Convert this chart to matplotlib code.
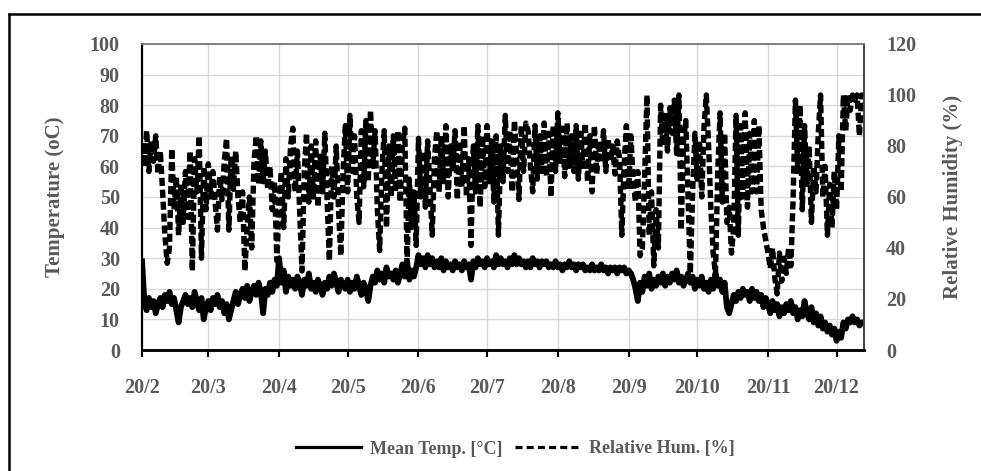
import numpy as np
import matplotlib
matplotlib.use('Agg')
import matplotlib.pyplot as plt
from matplotlib.lines import Line2D
import pandas as pd

# daily readings from 20 Feb 2020 to 1 Jan 2021
start_date = '2020-02-20'

mean_temp = [
    29, 16, 13, 17, 14, 16, 12, 15, 17,
    14, 18, 16, 19, 15, 17, 13, 9, 14, 16,
    18, 15, 17, 14, 19, 16, 13, 17, 10, 14,
    16, 13, 17, 15, 18, 14, 16, 12, 15, 10,
    13, 16, 19, 15, 18, 20, 17, 21, 16, 19,
    21, 18, 22, 19, 12, 20, 18, 22, 19, 23,
    21, 30, 22, 26, 19, 24, 21, 23, 20, 24,
    22, 18, 23, 21, 25, 20, 22, 19, 23, 21,
    18, 22, 20, 24, 21, 25, 22, 19, 23, 21,
    20, 23, 19, 22, 20, 24, 21, 18, 22, 20,
    16, 21, 24, 22, 26, 23, 25, 22, 27, 24,
    25, 23, 26, 22, 25, 28, 24, 29, 23, 26,
    24, 27, 31, 28, 30, 27, 31, 28, 30, 27,
    29, 27, 30, 26, 29, 27, 28, 26, 29, 27,
    28, 26, 29, 27, 28, 23, 29, 27, 30, 28,
    29, 27, 30, 28, 29, 27, 31, 28, 30, 28,
    29, 27, 30, 28, 31, 28, 30, 28, 29, 27,
    29, 27, 30, 28, 29, 27, 29, 28, 29, 27,
    28, 27, 29, 27, 28, 26, 28, 27, 29, 27,
    28, 26, 28, 27, 28, 26, 27, 26, 28, 26,
    27, 26, 28, 26, 27, 25, 27, 26, 27, 25,
    27, 26, 27, 25, 26, 25, 23, 20, 16, 22,
    19, 24, 21, 25, 20, 23, 21, 24, 22, 25,
    21, 24, 22, 25, 23, 26, 22, 24, 21, 23,
    25, 22, 24, 20, 23, 21, 24, 20, 22, 19,
    23, 20, 25, 21, 23, 19, 22, 14, 12, 15,
    18, 16, 19, 17, 20, 18, 19, 16, 20, 17,
    19, 16, 18, 14, 17, 15, 12, 16, 13, 15,
    11, 14, 12, 15, 13, 16, 12, 14, 10, 13,
    11, 16, 12, 10, 14, 9, 12, 8, 11, 7,
    9, 6, 8, 5, 7, 3, 6, 4, 9, 7,
    10, 9, 11, 9, 10, 8, 9, 9,
]

rel_hum = [
    80, 72, 86, 70, 82, 74, 84, 69, 78,
    62, 45, 34, 40, 79, 55, 68, 45, 65, 50,
    70, 52, 78, 31, 75, 62, 84, 36, 72, 55,
    73, 60, 70, 58, 47, 68, 59, 74, 83, 47,
    76, 63, 78, 60, 50, 62, 31, 48, 60, 40,
    74, 84, 65, 82, 66, 78, 63, 72, 55, 66,
    35, 58, 70, 48, 75, 60, 80, 87, 62, 78,
    55, 31, 70, 85, 58, 80, 60, 82, 56, 76,
    62, 85, 59, 35, 72, 60, 80, 55, 37, 70,
    88, 62, 92, 70, 84, 60, 50, 86, 64, 90,
    66, 94, 72, 86, 55, 39, 70, 86, 48, 80,
    60, 84, 62, 86, 58, 80, 87, 34, 67, 48,
    62, 41, 83, 60, 78, 56, 82, 64, 45, 75,
    86, 62, 84, 66, 88, 60, 80, 70, 86, 59,
    82, 64, 88, 60, 75, 41, 80, 62, 88, 56,
    84, 64, 88, 66, 82, 58, 84, 45, 80, 66,
    92, 70, 86, 62, 90, 75, 59, 88, 70, 89,
    86, 72, 62, 88, 67, 84, 70, 89, 68, 85,
    60, 88, 70, 93, 74, 87, 68, 89, 72, 84,
    70, 88, 67, 85, 72, 89, 66, 84, 62, 88,
    69, 82, 75, 86, 70, 83, 74, 80, 69, 82,
    75, 45, 72, 88, 63, 84, 66, 58, 70, 37,
    40, 68, 100, 45, 62, 33, 55, 40, 96, 80,
    92, 78, 95, 85, 98, 77, 100, 47, 82, 90,
    60, 30, 62, 85, 67, 82, 60, 88, 100, 80,
    55, 38, 30, 70, 93, 58, 85, 50, 56, 38,
    48, 92, 45, 88, 60, 93, 56, 85, 62, 90,
    62, 88, 55, 48, 43, 38, 32, 40, 28, 22,
    38, 27, 36, 30, 40, 33, 60, 98, 70, 96,
    55, 88, 65, 80, 50, 72, 62, 85, 100, 60,
    72, 45, 65, 48, 70, 55, 84, 62, 100, 86,
    100, 94, 100, 98, 100, 84, 100, 96,
]

tick_months = [2, 3, 4, 5, 6, 7, 8, 9, 10, 11, 12]
tick_labels = ['20/' + str(m) for m in tick_months]

dates = pd.date_range(start_date, periods=len(mean_temp), freq='D')
tick_dates = [pd.Timestamp(2020, m, 20) for m in tick_months]

plt.rcParams['font.family'] = ['Liberation Serif', 'DejaVu Serif']
plt.rcParams['font.weight'] = 'bold'
grey = '#595959'

fig = plt.figure(figsize=(9.81, 4.71), dpi=100)
ax = fig.add_axes([0.1448, 0.2569, 0.7359, 0.6497])
ax2 = ax.twinx()

ax.plot(dates, mean_temp, color='black', lw=4.2, solid_joinstyle='round', label='Mean Temp. [°C]')
ax2.plot(dates, rel_hum, color='black', lw=3.9, linestyle=(0, (1.5, 0.7)),
         dash_capstyle='butt', label='Relative Hum. [%]')

ax.set_ylim(0, 100)
ax.set_yticks(np.arange(0, 101, 10))
ax2.set_ylim(0, 120)
ax2.set_yticks(np.arange(0, 121, 20))
ax.set_xlim(pd.Timestamp('2020-02-20'), pd.Timestamp('2021-01-01'))
ax.set_xticks(tick_dates)
ax.set_xticklabels(tick_labels)

ax.grid(True, color='#d9d9d9', lw=1.0)
ax.set_axisbelow(True)

for a in (ax, ax2):
    a.spines['top'].set_color('#7f7f7f')
    a.spines['right'].set_color('#404040')
    a.spines['left'].set_color('black')
    a.spines['bottom'].set_color('black')
    a.spines['bottom'].set_linewidth(1.8)
    a.spines['left'].set_linewidth(1.5)
    a.spines['top'].set_linewidth(1.2)
    a.spines['right'].set_linewidth(1.2)

ax.tick_params(axis='x', direction='out', length=5, width=1.5, color='black',
               labelsize=14.5, labelcolor=grey, pad=15)
ax.tick_params(axis='y', length=0, labelsize=14.5, labelcolor=grey, pad=16)
ax2.tick_params(axis='y', length=0, labelsize=14.5, labelcolor=grey, pad=16)

fig.text(55 / 981, 1 - 197 / 471, 'Temperature (oC)', rotation=90, ha='center', va='center',
         fontsize=15, color=grey, fontweight='bold')
fig.text(953 / 981, 1 - 197 / 471, 'Relative Humidity (%)', rotation=90, ha='center', va='center',
         fontsize=15, color=grey, fontweight='bold')

h1, l1 = ax.get_legend_handles_labels()
h2, l2 = ax2.get_legend_handles_labels()
leg = fig.legend(h1 + h2, l1 + l2, loc='center', bbox_to_anchor=(515 / 981, 1 - 449 / 471),
                 ncol=2, frameon=False, fontsize=13, handlelength=3.6, handletextpad=0.5,
                 columnspacing=0.7)
for t in leg.get_texts():
    t.set_color(grey)
for ln in leg.get_lines():
    ln.set_linewidth(2.3)
leg.get_lines()[1].set_linestyle((0, (2.2, 1.3)))

# outer frame (only top and left edges are visible in the source)
fig.add_artist(Line2D([9 / 981, 9 / 981], [0, 1 - 14 / 471], color='black', lw=1.8))
fig.add_artist(Line2D([9 / 981, 1], [1 - 14 / 471, 1 - 14 / 471], color='black', lw=1.8))

fig.savefig('out.png', dpi=100)
